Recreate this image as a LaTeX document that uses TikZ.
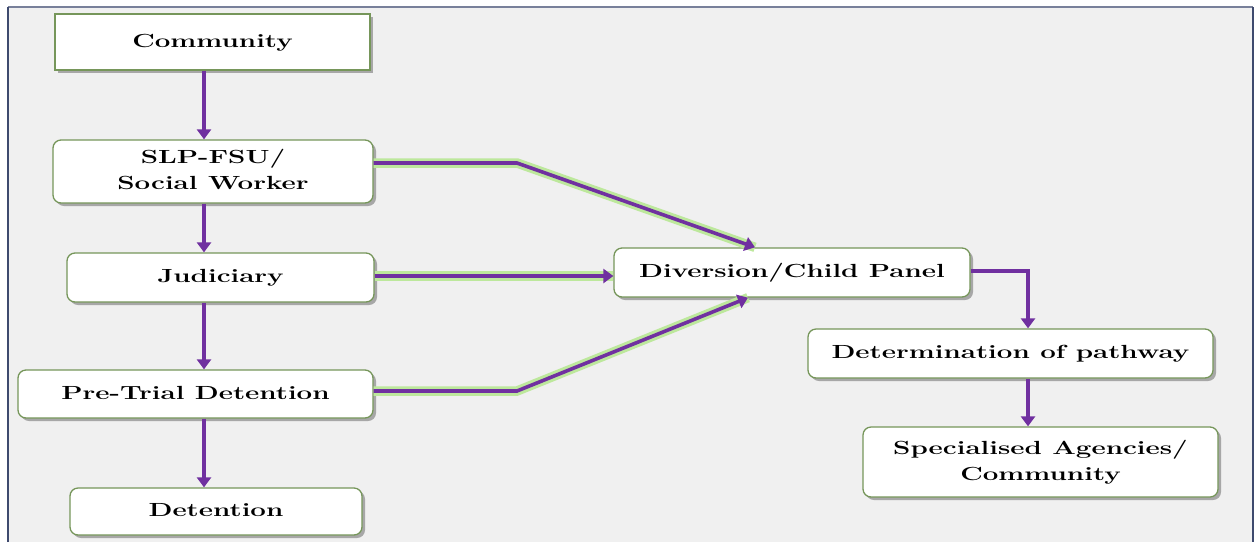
\documentclass[tikz,border=0pt]{standalone}
\usepackage{graphicx}
\usetikzlibrary{arrows.meta,shadows,calc}
\definecolor{bgcol}{HTML}{F0F0F0}
\definecolor{framecol}{HTML}{3E4A6E}
\definecolor{purp}{HTML}{7030A0}
\definecolor{glowgreen}{HTML}{BDE89C}
\definecolor{boxborder}{HTML}{76965A}
\newcommand{\wtxt}[1]{\scalebox{1.46}[1]{\begin{tabular}{@{}c@{}}#1\end{tabular}}}
\tikzset{
  box/.style={draw=boxborder, line width=1.3pt, fill=white, inner sep=0pt,
    rounded corners=8pt,
    font=\fontsize{19}{26}\selectfont\bfseries,
    drop shadow={shadow xshift=3pt, shadow yshift=-3pt, fill=black!50, opacity=0.65}},
  sqbox/.style={box, rounded corners=0pt},
  arr/.style={draw=purp, line width=3.6pt, -{Triangle[length=10pt,width=14pt]}},
  glowarr/.style={arr, preaction={draw=glowgreen, line width=9.5pt, -}},
}
\begin{document}
\begin{tikzpicture}[x=1pt,y=-1pt]
\useasboundingbox (0,0) rectangle (1255,542);
\fill[white] (0,0) rectangle (1255,542);
\fill[bgcol] (8,7) rectangle (1253,542);
\draw[framecol!70, line width=1.2pt] (8,7) -- (1253,7);
\draw[framecol, line width=1.6pt] (8,542) -- (8,7);
\draw[framecol, line width=1.6pt] (1253,7) -- (1253,542);

\node[sqbox, minimum width=315pt, minimum height=56pt] (comm) at (212.5,42) {\wtxt{Community}};
\node[box, minimum width=320pt, minimum height=63pt] (slp) at (213,171.5) {\wtxt{SLP-FSU/\\Social Worker}};
\node[box, minimum width=307pt, minimum height=49pt] (jud) at (220.5,277.5) {\wtxt{Judiciary}};
\node[box, minimum width=355pt, minimum height=48pt] (pre) at (195.5,394) {\wtxt{Pre-Trial Detention}};
\node[box, minimum width=292pt, minimum height=47pt] (det) at (216,511.5) {\wtxt{Detention}};
\node[box, minimum width=356pt, minimum height=49pt] (div) at (792,272.5) {\wtxt{Diversion/Child Panel}};
\node[box, minimum width=405pt, minimum height=49pt] (dop) at (1010.5,353.5) {\wtxt{Determination of pathway}};
\node[box, minimum width=355pt, minimum height=70pt] (spec) at (1040.5,462) {\wtxt{Specialised Agencies/\\Community}};

\coordinate (colL) at (204,0);
\coordinate (colR) at (1028,0);
\coordinate (bendA) at (517,163);
\coordinate (bendB) at (517,391);
\coordinate (tipA) at (755,0);
\coordinate (tipB) at (748,0);

\draw[arr] (comm.south -| colL) -- (slp.north -| colL);
\draw[arr] (slp.south -| colL) -- (jud.north -| colL);
\draw[arr] (jud.south -| colL) -- (pre.north -| colL);
\draw[arr] (pre.south -| colL) -- (det.north -| colL);

\draw[glowarr] (slp.east |- bendA) -- (bendA) -- (div.north -| tipA);
\draw[glowarr] (jud.east |- 0,276) -- (div.west |- 0,276);
\draw[glowarr] (pre.east |- bendB) -- (bendB) -- (div.south -| tipB);

\draw[arr] (div.east |- 0,271) -| (dop.north -| colR);
\draw[arr] (dop.south -| colR) -- (spec.north -| colR);
\end{tikzpicture}
\end{document}
